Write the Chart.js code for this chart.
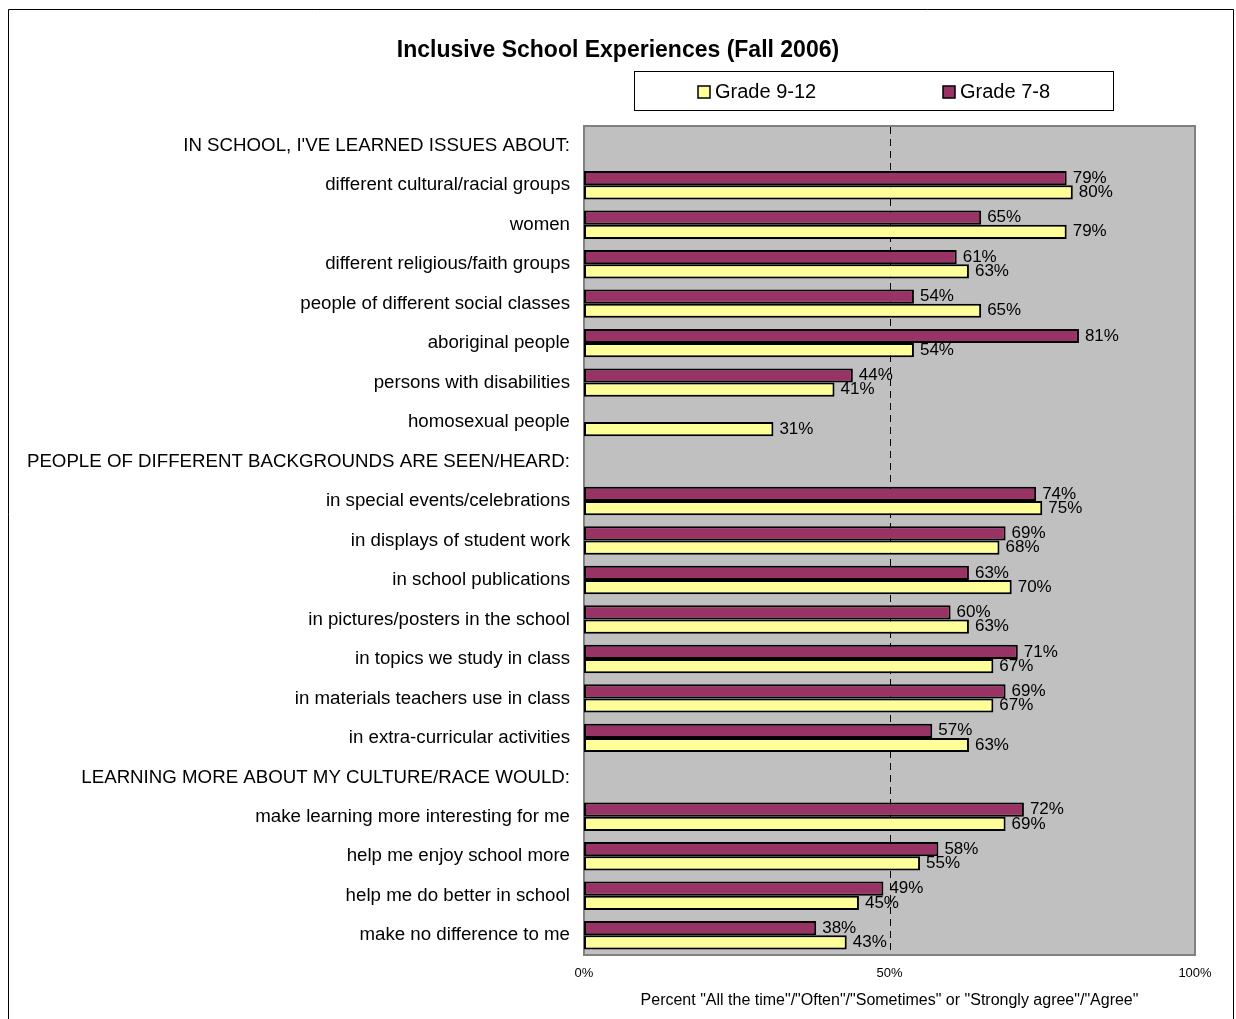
<!DOCTYPE html>
<html>
<head>
<meta charset="utf-8">
<title>Inclusive School Experiences (Fall 2006)</title>
<script src="https://cdn.jsdelivr.net/npm/chart.js@4.4.1/dist/chart.umd.min.js"></script>
<style>
  html, body { margin: 0; padding: 0; background: #ffffff; }
  #wrap { width: 1236px; height: 1019px; position: relative; }
</style>
</head>
<body>
<div id="wrap"><canvas id="chart" width="1236" height="1019"></canvas></div>
<script>
// Survey items (section headings carry no values)
const categories = [
  "IN SCHOOL, I'VE LEARNED ISSUES ABOUT:",
  "different cultural/racial groups",
  "women",
  "different religious/faith groups",
  "people of different social classes",
  "aboriginal people",
  "persons with disabilities",
  "homosexual people",
  "PEOPLE OF DIFFERENT BACKGROUNDS ARE SEEN/HEARD:",
  "in special events/celebrations",
  "in displays of student work",
  "in school publications",
  "in pictures/posters in the school",
  "in topics we study in class",
  "in materials teachers use in class",
  "in extra-curricular activities",
  "LEARNING MORE ABOUT MY CULTURE/RACE WOULD:",
  "make learning more interesting for me",
  "help me enjoy school more",
  "help me do better in school",
  "make no difference to me"
];

// Percent answering "All the time"/"Often"/"Sometimes" or "Strongly agree"/"Agree"
const grade78 = [null, 79, 65, 61, 54, 81, 44, null, null, 74, 69, 63, 60, 71, 69, 57, null, 72, 58, 49, 38];
const grade912 = [null, 80, 79, 63, 65, 54, 41, 31, null, 75, 68, 70, 63, 67, 67, 63, null, 69, 55, 45, 43];

const seriesNames = ["Grade 7-8", "Grade 9-12"];
const legendOrder = ["Grade 9-12", "Grade 7-8"];
const xTicks = [0, 50, 100];

const chartTitle = "Inclusive School Experiences (Fall 2006)";
const axisTitle = 'Percent "All the time"/"Often"/"Sometimes" or "Strongly agree"/"Agree"';

const FONT = "'Liberation Sans', Arial, Helvetica, sans-serif";
const MAROON = "#993366";
const YELLOW = "#FFFF99";

// Frame, heading, legend box, plot background and 50% reference line
const decorations = {
  id: "decorations",
  beforeDraw(chart) {
    const ctx = chart.ctx;
    const a = chart.chartArea;
    ctx.save();
    // outer frame
    ctx.strokeStyle = "#000000";
    ctx.lineWidth = 1;
    ctx.beginPath();
    ctx.moveTo(8.5, 1030);
    ctx.lineTo(8.5, 9.5);
    ctx.lineTo(1233.5, 9.5);
    ctx.lineTo(1233.5, 1030);
    ctx.stroke();

    // heading
    ctx.fillStyle = "#000000";
    ctx.font = "bold 23px " + FONT;
    ctx.textAlign = "center";
    ctx.textBaseline = "middle";
    ctx.fillText(chartTitle, 618, 51);

    // legend box
    ctx.strokeStyle = "#000000";
    ctx.lineWidth = 1;
    ctx.strokeRect(634.5, 71.5, 479, 39);
    const items = legendOrder.map(name => chart.data.datasets.find(d => d.label === name));
    const xs = [698, 943];
    ctx.font = "20px " + FONT;
    ctx.textAlign = "left";
    items.forEach((ds, i) => {
      ctx.fillStyle = ds.backgroundColor;
      ctx.fillRect(xs[i], 86, 12, 12);
      ctx.strokeStyle = "#000000";
      ctx.lineWidth = 1.5;
      ctx.strokeRect(xs[i], 86, 12, 12);
      ctx.fillStyle = "#000000";
      ctx.fillText(ds.label, xs[i] + 17, 92);
    });

    // plot background
    ctx.fillStyle = "#C0C0C0";
    ctx.fillRect(a.left, a.top, a.right - a.left, a.bottom - a.top);
    ctx.strokeStyle = "#808080";
    ctx.lineWidth = 2;
    ctx.strokeRect(a.left, a.top, a.right - a.left, a.bottom - a.top);
    ctx.restore();
  },
  beforeDatasetsDraw(chart) {
    const ctx = chart.ctx;
    const a = chart.chartArea;
    const x = Math.round(chart.scales.x.getPixelForValue(50)) + 0.5;
    ctx.save();
    ctx.strokeStyle = "#000000";
    ctx.lineWidth = 1;
    ctx.setLineDash([7, 5]);
    ctx.beginPath();
    ctx.moveTo(x, a.top + 1);
    ctx.lineTo(x, a.bottom - 1);
    ctx.stroke();
    ctx.restore();
  }
};

// Value labels at the end of each bar
const valueLabels = {
  id: "valueLabels",
  afterDatasetsDraw(chart) {
    const ctx = chart.ctx;
    ctx.save();
    ctx.font = "17px " + FONT;
    ctx.fillStyle = "#000000";
    ctx.textAlign = "left";
    ctx.textBaseline = "middle";
    chart.data.datasets.forEach((ds, di) => {
      const meta = chart.getDatasetMeta(di);
      meta.data.forEach((el, i) => {
        const v = ds.data[i];
        if (v === null || v === undefined) return;
        ctx.fillText(v + "%", el.x + 6, el.y);
      });
    });
    ctx.restore();
  }
};

new Chart(document.getElementById("chart"), {
  type: "bar",
  data: {
    labels: categories,
    datasets: [
      {
        label: seriesNames[0],
        data: grade78,
        backgroundColor: MAROON,
        borderColor: "#000000",
        borderWidth: 2,
        borderSkipped: false,
        categoryPercentage: 0.72,
        barPercentage: 1.0
      },
      {
        label: seriesNames[1],
        data: grade912,
        backgroundColor: YELLOW,
        borderColor: "#000000",
        borderWidth: 2,
        borderSkipped: false,
        categoryPercentage: 0.72,
        barPercentage: 1.0
      }
    ]
  },
  options: {
    indexAxis: "y",
    responsive: false,
    animation: false,
    devicePixelRatio: 1,
    layout: { padding: { top: 126, right: 41, bottom: 0, left: 0 } },
    plugins: {
      legend: { display: false },
      title: { display: false },
      tooltip: { enabled: false }
    },
    scales: {
      y: {
        type: "category",
        grid: { display: false, drawTicks: false },
        border: { display: false },
        ticks: {
          autoSkip: false,
          color: "#000000",
          font: { family: FONT, size: 18.7 },
          padding: 14
        },
        afterFit(scale) { scale.width = 584; }
      },
      x: {
        min: 0,
        max: 100,
        grid: { display: false, drawTicks: false },
        border: { display: false },
        afterBuildTicks(scale) { scale.ticks = xTicks.map(v => ({ value: v })); },
        ticks: {
          color: "#000000",
          font: { family: FONT, size: 13 },
          padding: 11,
          maxRotation: 0,
          callback: v => v + "%"
        },
        title: {
          display: true,
          text: axisTitle,
          color: "#000000",
          font: { family: FONT, size: 16 },
          padding: { top: 0, bottom: 9 }
        },
        afterFit(scale) { scale.height = 64; }
      }
    }
  },
  plugins: [decorations, valueLabels]
});
</script>
</body>
</html>
